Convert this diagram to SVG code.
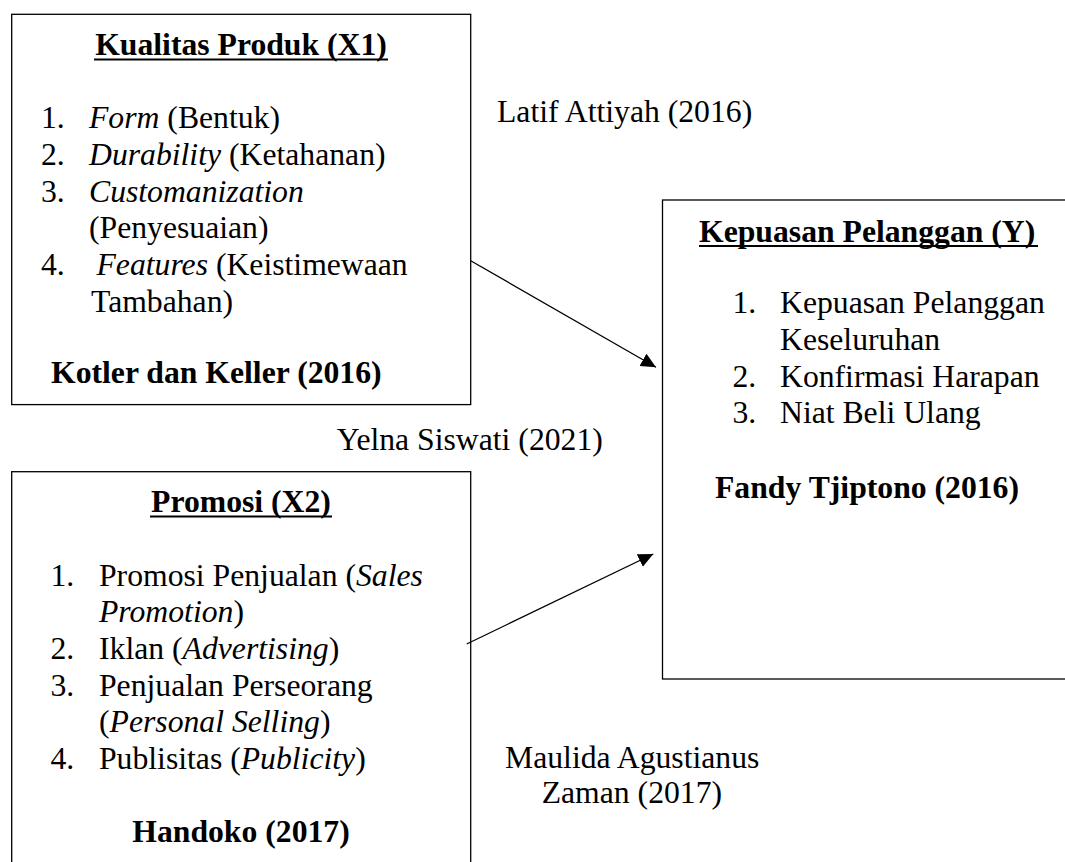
<svg xmlns="http://www.w3.org/2000/svg" width="1065" height="862" viewBox="0 0 1065 862">
<style>
text{font-family:"Liberation Serif","Times New Roman",serif;font-size:31.7px;fill:#000}
.b{font-weight:bold}
.i{font-style:italic}
.c{text-anchor:middle}
.ul{stroke:#000;stroke-width:1.8}
.box{fill:#fff;stroke:#000;stroke-width:1.3}
.con{stroke:#000;stroke-width:1.3;fill:none}
</style>
<defs>
<marker id="ah" markerUnits="userSpaceOnUse" markerWidth="16" markerHeight="15" refX="15" refY="7" orient="auto">
<path d="M0,0 L15,7 L0,14 z" fill="#000"/>
</marker>
</defs>
<rect width="1065" height="862" fill="#fff"/>
<g id="x1">
<rect class="box" x="11.7" y="14.3" width="459" height="390.3"/>
<text class="b c" x="241" y="55">Kualitas Produk (X1)</text>
<line class="ul" x1="94" y1="59.5" x2="388" y2="59.5"/>
<text x="41" y="128.3">1.</text><text x="89" y="128.3"><tspan class="i">Form</tspan> (Bentuk)</text>
<text x="41" y="165">2.</text><text x="89" y="165"><tspan class="i">Durability</tspan> (Ketahanan)</text>
<text x="41" y="201.7">3.</text><text x="89" y="201.7" class="i">Customanization</text>
<text x="89" y="238.3">(Penyesuaian)</text>
<text x="41" y="275">4.</text><text x="96.5" y="275"><tspan class="i">Features</tspan> (Keistimewaan</text>
<text x="91" y="311.7">Tambahan)</text>
<text class="b" x="51" y="383">Kotler dan Keller (2016)</text>
</g>
<g id="x2">
<rect class="box" x="11.7" y="471.7" width="459" height="400"/>
<text class="b c" x="241" y="511.7">Promosi (X2)</text>
<line class="ul" x1="150" y1="516.5" x2="332" y2="516.5"/>
<text x="50.5" y="585.7">1.</text><text x="99" y="585.7">Promosi Penjualan (<tspan class="i">Sales</tspan></text>
<text x="99" y="622.3"><tspan class="i">Promotion</tspan>)</text>
<text x="50.5" y="659">2.</text><text x="99" y="659">Iklan (<tspan class="i">Advertising</tspan>)</text>
<text x="50.5" y="695.7">3.</text><text x="99" y="695.7">Penjualan Perseorang</text>
<text x="99" y="732.3">(<tspan class="i">Personal Selling</tspan>)</text>
<text x="50.5" y="769">4.</text><text x="99" y="769">Publisitas (<tspan class="i">Publicity</tspan>)</text>
<text class="b c" x="241" y="841.7">Handoko (2017)</text>
</g>
<g id="y">
<rect class="box" x="662.5" y="200" width="420" height="479"/>
<text class="b" x="699" y="241.7">Kepuasan Pelanggan (Y)</text>
<line class="ul" x1="699" y1="246" x2="1038" y2="246"/>
<text x="732.5" y="313.3">1.</text><text x="780" y="313.3">Kepuasan Pelanggan</text>
<text x="780" y="350">Keseluruhan</text>
<text x="732.5" y="386.7">2.</text><text x="780" y="386.7">Konfirmasi Harapan</text>
<text x="732.5" y="423.3">3.</text><text x="780" y="423.3">Niat Beli Ulang</text>
<text class="b" x="715" y="498.3">Fandy Tjiptono (2016)</text>
</g>
<g id="connectors">
<line class="con" x1="470.7" y1="260.7" x2="656" y2="367.3" marker-end="url(#ah)"/>
<line class="con" x1="466.7" y1="644" x2="653.3" y2="554" marker-end="url(#ah)"/>
</g>
<g id="labels">
<text x="497" y="122">Latif Attiyah (2016)</text>
<text x="336.7" y="450">Yelna Siswati (2021)</text>
<text x="505" y="768.3">Maulida Agustianus</text>
<text x="541.7" y="803.3">Zaman (2017)</text>
</g>
</svg>
